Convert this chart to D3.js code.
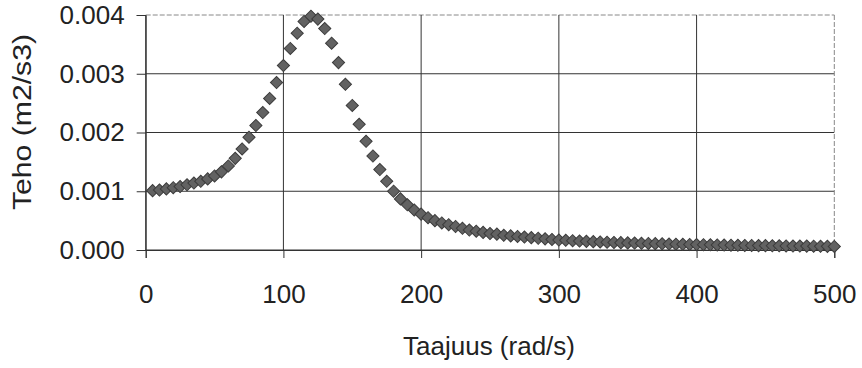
<!DOCTYPE html>
<html><head><meta charset="utf-8">
<script src="https://cdn.jsdelivr.net/npm/d3@7"></script>
<style>html,body{margin:0;padding:0;background:#fff;}svg{display:block;}</style>
</head><body>
<svg id="c" width="862" height="368"></svg>
<script>
const taajuus = [5,10,15,20,25,30,35,40,45,50,55,60,65,70,75,80,85,90,95,100,
105,110,115,120,125,130,135,140,145,150,155,160,165,170,175,180,185,190,195,200,
205,210,215,220,225,230,235,240,245,250,255,260,265,270,275,280,285,290,295,300,
305,310,315,320,325,330,335,340,345,350,355,360,365,370,375,380,385,390,395,400,
405,410,415,420,425,430,435,440,445,450,455,460,465,470,475,480,485,490,495,500];
const teho = [0.00101,0.00102,0.00104,0.00106,0.00108,0.00111,0.00114,0.00117,0.00121,0.00126,
0.00133,0.00143,0.00156,0.00172,0.00192,0.00212,0.00234,0.00258,0.00285,0.00314,
0.00343,0.00369,0.00389,0.00398,0.00393,0.00377,0.00352,0.00319,0.00282,0.00246,
0.00214,0.00185,0.00160,0.00137,0.00117,0.00100,0.00087,0.00077,0.00068,0.00061,
0.00055,0.00050,0.00046,0.00043,0.00040,0.00037,0.00034,0.00032,0.00030,0.00028,
0.00027,0.00025,0.00024,0.00023,0.00022,0.00021,0.00020,0.00019,0.00018,0.00017,
0.000165,0.000158,0.000152,0.000147,0.000142,0.000137,0.000133,0.000129,0.000125,0.000121,
0.000118,0.000114,0.000111,0.000108,0.000105,0.000102,0.000099,0.000097,0.000094,0.000092,
0.00009,0.000088,0.000086,0.000084,0.000082,0.00008,0.000078,0.000077,0.000075,0.000074,
0.000072,0.000071,0.000069,0.000068,0.000067,0.000066,0.000064,0.000063,0.000062,0.000061];
const xTicks = [0,100,200,300,400,500];
const yTicks = [0,0.001,0.002,0.003,0.004];
const xTitle = "Taajuus (rad/s)";
const yTitle = "Teho (m2/s3)";

const svg = d3.select("#c");
const L = 145.7, R = 834.3, T = 15, B = 250;
const x = d3.scaleLinear().domain([0,500]).range([L,R]);
const y = d3.scaleLinear().domain([0,0.004]).range([B,T]);
const font = "Arial, 'Liberation Sans', sans-serif";

// gridlines
const g = svg.append("g");
g.selectAll("line.h").data(yTicks).enter().append("line")
  .attr("x1",L).attr("x2",R).attr("y1",d=>y(d)).attr("y2",d=>y(d))
  .attr("stroke",d=>d===0.004?"#888":"#333").attr("stroke-width",1)
  .attr("stroke-dasharray",d=>d===0.004?"5,2":null);
g.selectAll("line.v").data(xTicks).enter().append("line")
  .attr("y1",T).attr("y2",B).attr("x1",d=>x(d)).attr("x2",d=>x(d))
  .attr("stroke",d=>d===500?"#888":"#333").attr("stroke-width",1)
  .attr("stroke-dasharray",d=>d===500?"5,2":null);

// axes
const xAxis = d3.axisBottom(x).tickValues(xTicks).tickSize(8).tickPadding(27).tickFormat(d3.format("d"));
const yAxis = d3.axisLeft(y).tickValues(yTicks).tickSize(9).tickPadding(12).tickFormat(d3.format(".3f"));
const gx = svg.append("g").attr("transform",`translate(0,${B})`).call(xAxis);
const gy = svg.append("g").attr("transform",`translate(${L},0)`).call(yAxis);
[gx,gy].forEach(a=>{
  a.select(".domain").attr("stroke","#333");
  a.selectAll(".tick line").attr("stroke","#333");
  a.selectAll(".tick text").attr("fill","#222").style("font-family",font).style("font-size","26px");
});

// markers
const sym = d3.symbol().type(d3.symbolSquare).size(74);
svg.append("g").selectAll("path").data(taajuus.map((t,i)=>[t,teho[i]])).enter().append("path")
  .attr("d",sym)
  .attr("transform",d=>`translate(${x(d[0])},${y(d[1])}) rotate(45)`)
  .attr("fill","#626262").attr("stroke","#3c3c3c").attr("stroke-width",1);

// titles
svg.append("text").attr("x",489).attr("y",355).attr("text-anchor","middle")
  .attr("fill","#222").style("font-family",font).style("font-size","26px").text(xTitle);
svg.append("text").attr("transform",`translate(31,122) rotate(-90)`).attr("text-anchor","middle")
  .attr("fill","#222").style("font-family",font).style("font-size","26px")
  .attr("textLength",176).attr("lengthAdjust","spacingAndGlyphs").text(yTitle);
</script>
</body></html>
